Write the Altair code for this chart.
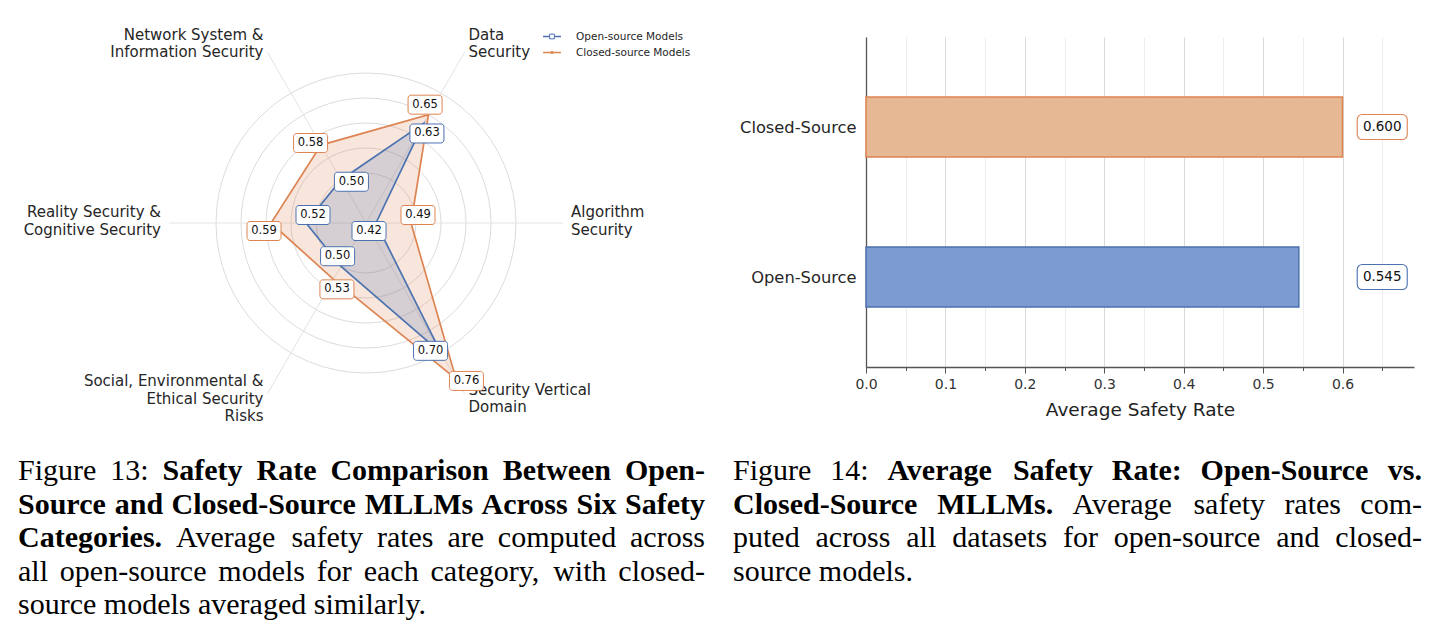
import altair as alt
import pandas as pd

# ---------------- data ----------------
# Six safety categories, counter-clockwise starting from the right-hand axis
categories = [
    "Algorithm Security",
    "Data Security",
    "Network System & Information Security",
    "Reality Security & Cognitive Security",
    "Social, Environmental & Ethical Security Risks",
    "Security Vertical Domain",
]
category_labels = [
    "Algorithm\nSecurity",
    "Data\nSecurity",
    "Network System &\nInformation Security",
    "Reality Security &\nCognitive Security",
    "Social, Environmental &\nEthical Security\nRisks",
    "Security Vertical\nDomain",
]
open_rates = [0.42, 0.63, 0.50, 0.52, 0.50, 0.70]
closed_rates = [0.49, 0.65, 0.58, 0.59, 0.53, 0.76]
series_names = ["Open-source Models", "Closed-source Models"]
ring_levels = [0.50, 0.55, 0.60, 0.65, 0.70]

bar_groups = ["Open-Source", "Closed-Source"]
bar_rates = [0.545, 0.600]
x_tick_values = [0.0, 0.05, 0.1, 0.15, 0.2, 0.25, 0.3, 0.35, 0.4, 0.45, 0.5, 0.55, 0.6, 0.65]

left_caption = [
    [("Figure 13:", False), ("Safety Rate Comparison Between Open-", True)],
    [("Source and Closed-Source MLLMs Across Six Safety", True)],
    [("Categories.", True), ("Average safety rates are computed across", False)],
    [("all open-source models for each category, with closed-", False)],
    [("source models averaged similarly.", False)],
]
right_caption = [
    [("Figure 14:", False), ("Average Safety Rate: Open-Source vs.", True)],
    [("Closed-Source MLLMs.", True), ("Average safety rates com-", False)],
    [("puted across all datasets for open-source and closed-", False)],
    [("source models.", False)],
]

# ---------------- styling ----------------
BLUE = "#4c72b0"
ORANGE = "#dd8452"
TEXT = "#262626"

W_L, H_ALL = 720, 634          # left panel (radar + captions)
CX, CY = 366, 220              # radar centre
R_MIN, PX_PER = 0.40, 500      # value at centre, pixels per rate unit
SPOKE_PX, LABEL_PX = 197, 205
N = len(categories)
BOX_W, BOX_H = 34, 19
CAT_LH = 17.5

BAR_W, BAR_H = 548, 330
X_MAX = 0.69
Y_DOM = [-0.6, 1.6]

CAP_FONT = 30
CAP_LINE = 33.5
CAP_Y0 = 477

# Times-compatible advance widths (1/1000 em) used to justify caption lines
_reg = dict(zip("abcdefghijklmnopqrstuvwxyz",
                [444, 500, 444, 500, 444, 333, 500, 500, 278, 278, 500, 278, 778,
                 500, 500, 500, 500, 333, 389, 278, 500, 500, 722, 500, 500, 444]))
_reg.update(dict(zip("ABCDEFGHIJKLMNOPQRSTUVWXYZ",
                     [722, 667, 667, 722, 611, 556, 722, 722, 333, 389, 722, 611, 889,
                      722, 722, 556, 722, 667, 556, 611, 722, 722, 944, 722, 722, 611])))
_reg.update({" ": 250, ".": 250, ",": 250, ":": 278, "-": 333})
_bold = dict(zip("abcdefghijklmnopqrstuvwxyz",
                 [500, 556, 444, 556, 444, 333, 500, 556, 278, 333, 556, 278, 833,
                  556, 500, 556, 556, 444, 389, 333, 556, 500, 722, 500, 500, 444]))
_bold.update(dict(zip("ABCDEFGHIJKLMNOPQRSTUVWXYZ",
                      [722, 667, 722, 722, 667, 611, 778, 778, 389, 500, 778, 667, 944,
                       722, 778, 611, 778, 722, 556, 667, 722, 722, 1000, 722, 722, 667])))
_bold.update({" ": 250, ".": 250, ",": 250, ":": 333, "-": 333})


def word_width(word, bold):
    table = _bold if bold else _reg
    return sum(table.get(ch, 500) for ch in word) * CAP_FONT / 1000


def layout_caption(lines, x0, x1, y0):
    rows = []
    for li, segs in enumerate(lines):
        words = [(w, b) for text, b in segs for w in text.split(" ")]
        widths = [word_width(w, b) for w, b in words]
        if li == len(lines) - 1 or len(words) < 2:
            gap = _reg[" "] * CAP_FONT / 1000
        else:
            gap = (x1 - x0 - sum(widths)) / (len(words) - 1)
        x = x0
        for (w, b), wd in zip(words, widths):
            rows.append({"word": w, "x": x, "y": y0 + li * CAP_LINE, "bold": b})
            x += wd + gap
    return rows


# ---------------- left panel: radar ----------------
sx = alt.Scale(domain=[0, W_L], nice=False, zero=False)
sy = alt.Scale(domain=[0, H_ALL], nice=False, zero=False, reverse=True)


def X(f):
    return alt.X(f"{f}:Q", scale=sx, axis=None)


def Y(f):
    return alt.Y(f"{f}:Q", scale=sy, axis=None)


ANG = f"datum.idx * 2 * PI / {N}"
series_stroke = alt.Scale(domain=series_names, range=[BLUE, ORANGE])

rings = alt.Chart(pd.DataFrame({"level": ring_levels})).transform_calculate(
    cx=str(CX), cy=str(CY),
    d=f"2 * (datum.level - {R_MIN}) * {PX_PER}",
    area="datum.d * datum.d",
).mark_point(shape="circle", filled=False, color="#dcdcdc", strokeWidth=1, opacity=1).encode(
    x=X("cx"), y=Y("cy"), size=alt.Size("area:Q", scale=None, legend=None)
)

spokes = alt.Chart(pd.DataFrame({"idx": list(range(N))})).transform_calculate(
    ang=ANG, cx=str(CX), cy=str(CY),
    ex=f"{CX} + {SPOKE_PX} * cos(datum.ang)",
    ey=f"{CY} - {SPOKE_PX} * sin(datum.ang)",
).mark_rule(color="#e4e4e4", strokeWidth=1).encode(x=X("cx"), y=Y("cy"), x2="ex:Q", y2="ey:Q")

radar_rows = []
for name, rates in zip(series_names, [open_rates, closed_rates]):
    for i, v in enumerate(rates):
        radar_rows.append({"series": name, "idx": i, "value": v, "order": i})
radar_df = pd.DataFrame(radar_rows)
poly_df = pd.concat([radar_df, radar_df[radar_df["idx"] == 0].assign(order=N)], ignore_index=True)


def polar(chart):
    return chart.transform_calculate(
        ang=ANG,
        rad=f"(datum.value - {R_MIN}) * {PX_PER}",
        px=f"{CX} + datum.rad * cos(datum.ang)",
        py=f"{CY} - datum.rad * sin(datum.ang)",
        sgn=f"datum.series == '{series_names[1]}' ? 1 : -1",
        lx="datum.px + datum.sgn * (7 * cos(datum.ang) - 8 * sin(datum.ang))",
        ly="datum.py - datum.sgn * (7 * sin(datum.ang) + 8 * cos(datum.ang))",
    )


def polygon(name, color):
    return polar(alt.Chart(poly_df)).transform_filter(f"datum.series == '{name}'").mark_line(
        fill=color, fillOpacity=0.2, stroke=color, strokeWidth=1.7, strokeJoin="miter"
    ).encode(x=X("px"), y=Y("py"), order="order:Q")


closed_poly = polygon(series_names[1], ORANGE)
open_poly = polygon(series_names[0], BLUE)

cat_df = pd.DataFrame({
    "idx": list(range(N)),
    "label": category_labels,
    "nlines": [lbl.count("\n") + 1 for lbl in category_labels],
})
cat_base = alt.Chart(cat_df).transform_calculate(
    ang=ANG,
    tx=f"{CX} + {LABEL_PX} * cos(datum.ang)",
    ty=f"{CY} - 2 - {LABEL_PX} * sin(datum.ang) - (datum.nlines - 1) * {CAT_LH / 2}",
)
cat_style = dict(baseline="middle", fontSize=15, lineHeight=CAT_LH, lineBreak="\n", color=TEXT)
cat_left = cat_base.transform_filter("cos(datum.ang) > 0").mark_text(align="left", **cat_style).encode(
    x=X("tx"), y=Y("ty"), text="label:N")
cat_right = cat_base.transform_filter("cos(datum.ang) <= 0").mark_text(align="right", **cat_style).encode(
    x=X("tx"), y=Y("ty"), text="label:N")

value_boxes = polar(alt.Chart(radar_df)).transform_calculate(
    bx1=f"datum.lx - {BOX_W / 2}", bx2=f"datum.lx + {BOX_W / 2}",
    by1=f"datum.ly - {BOX_H / 2}", by2=f"datum.ly + {BOX_H / 2}",
).mark_rect(cornerRadius=3, fill="white", strokeWidth=1).encode(
    x=X("bx1"), x2="bx2:Q", y=Y("by1"), y2="by2:Q",
    stroke=alt.Stroke("series:N", scale=series_stroke, legend=None),
)
value_text = polar(alt.Chart(radar_df)).mark_text(fontSize=11.5, color="#111111", baseline="middle").encode(
    x=X("lx"), y=Y("ly"), text=alt.Text("value:Q", format=".2f"))

# legend in the upper right of the radar panel
leg = alt.Chart(pd.DataFrame({"series": series_names, "row": [0, 1]})).transform_calculate(
    ly="33.5 + 16 * datum.row", x1="543", x2="561", mx="552", tx="576")
leg_lines = leg.mark_rule(strokeWidth=1.5).encode(
    x=X("x1"), x2="x2:Q", y=Y("ly"), stroke=alt.Stroke("series:N", scale=series_stroke, legend=None))
leg_open = leg.transform_filter("datum.row == 0").mark_point(
    shape="square", filled=True, fill="white", stroke=BLUE, strokeWidth=1, size=22, opacity=1
).encode(x=X("mx"), y=Y("ly"))
leg_closed = leg.transform_filter("datum.row == 1").mark_point(
    shape="circle", filled=True, color=ORANGE, size=10, opacity=1
).encode(x=X("mx"), y=Y("ly"))
leg_text = leg.mark_text(align="left", baseline="middle", fontSize=10.5, color=TEXT).encode(
    x=X("tx"), y=Y("ly"), text="series:N")

# captions under both panels
cap_df = pd.DataFrame(layout_caption(left_caption, 18, 705, CAP_Y0)
                      + layout_caption(right_caption, 733, 1422, CAP_Y0))
cap_style = dict(align="left", baseline="alphabetic", font="Liberation Serif", fontSize=CAP_FONT, color="black")
cap_normal = alt.Chart(cap_df).transform_filter("!datum.bold").mark_text(**cap_style).encode(
    x=X("x"), y=Y("y"), text="word:N")
cap_bold = alt.Chart(cap_df).transform_filter("datum.bold").mark_text(fontWeight="bold", **cap_style).encode(
    x=X("x"), y=Y("y"), text="word:N")

left = alt.layer(
    rings, spokes, closed_poly, open_poly,
    cat_left, cat_right, value_boxes, value_text,
    leg_lines, leg_open, leg_closed, leg_text,
    cap_normal, cap_bold,
).properties(width=W_L, height=H_ALL)

# ---------------- right panel: average bars ----------------
MAJOR = "round(datum.value * 100) % 10 == 0"
xs = alt.Scale(domain=[0, X_MAX], nice=False, zero=False)
ys = alt.Scale(domain=Y_DOM, nice=False, zero=False)
fill_scale = alt.Scale(domain=bar_groups, range=["#7c9bd0", "#e6b894"])
edge_scale = alt.Scale(domain=bar_groups, range=["#6a8cc9", "#dfa273"])
box_scale = alt.Scale(domain=bar_groups, range=[BLUE, ORANGE])

x_axis = alt.Axis(
    values=x_tick_values,
    labelExpr=f"{MAJOR} ? format(datum.value, '.1f') : ''",
    grid=True,
    gridColor={"condition": {"test": MAJOR, "value": "#dadada"}, "value": "#ededed"},
    gridWidth=1,
    tickSize={"condition": {"test": MAJOR, "value": 6}, "value": 3.5},
    tickColor="#555555", tickWidth=1,
    domainColor="#555555", domainWidth=1.3,
    labelFontSize=14, labelColor="#333333", labelPadding=4,
    labelFlush=False, labelOverlap=False,
    title="Average Safety Rate", titleFontSize=18.5, titleFontWeight="normal",
    titleColor="#222222", titlePadding=9,
)
group_expr = f"datum.value == 1 ? '{bar_groups[1]}' : '{bar_groups[0]}'"
y_axis = alt.Axis(
    values=[0, 1], labelExpr=group_expr, ticks=False, grid=False,
    domainColor="#555555", domainWidth=1.3,
    labelFontSize=16.3, labelColor=TEXT, labelPadding=10, title="",
)

bar_df = pd.DataFrame({"group": bar_groups, "rate": bar_rates, "pos": list(range(len(bar_groups)))})
LBL_X = max(bar_rates) + 0.05
HALF_BW = 25 * X_MAX / BAR_W
HALF_BH = 12.5 * (Y_DOM[1] - Y_DOM[0]) / BAR_H

bar_base = alt.Chart(bar_df).transform_calculate(
    start="0", lo="datum.pos - 0.2", hi="datum.pos + 0.2",
    lx=str(LBL_X),
    bx1=f"{LBL_X - HALF_BW}", bx2=f"{LBL_X + HALF_BW}",
    by1=f"datum.pos - {HALF_BH}", by2=f"datum.pos + {HALF_BH}",
)
bars = bar_base.mark_rect(strokeWidth=1.5).encode(
    x=alt.X("start:Q", scale=xs, axis=x_axis),
    x2="rate:Q",
    y=alt.Y("lo:Q", scale=ys, axis=y_axis),
    y2="hi:Q",
    fill=alt.Fill("group:N", scale=fill_scale, legend=None),
    stroke=alt.Stroke("group:N", scale=edge_scale, legend=None),
)
bar_boxes = bar_base.mark_rect(cornerRadius=5, fill="white", strokeWidth=1.1).encode(
    x=alt.X("bx1:Q", scale=xs, axis=x_axis), x2="bx2:Q",
    y=alt.Y("by1:Q", scale=ys, axis=y_axis), y2="by2:Q",
    stroke=alt.Stroke("group:N", scale=box_scale, legend=None),
)
bar_text = bar_base.mark_text(fontSize=13.5, color="#111111", baseline="middle").encode(
    x=alt.X("lx:Q", scale=xs, axis=x_axis),
    y=alt.Y("pos:Q", scale=ys, axis=y_axis),
    text=alt.Text("rate:Q", format=".3f"),
)
bar_panel = alt.layer(bars, bar_boxes, bar_text).properties(width=BAR_W, height=BAR_H)

spacer = alt.Chart(pd.DataFrame({"v": [0]})).mark_point(opacity=0).encode(
    x=alt.X("v:Q", axis=None), y=alt.Y("v:Q", axis=None)
).properties(width=BAR_W, height=1)

right = alt.vconcat(spacer, bar_panel, spacing=33, bounds="flush")

chart = alt.hconcat(left, right, spacing=146, bounds="flush").properties(
    padding=0, background="white"
).configure(font="DejaVu Sans", view=alt.ViewConfig(strokeWidth=0))

chart.save("out.html", embed_options={"renderer": "svg", "actions": False})
